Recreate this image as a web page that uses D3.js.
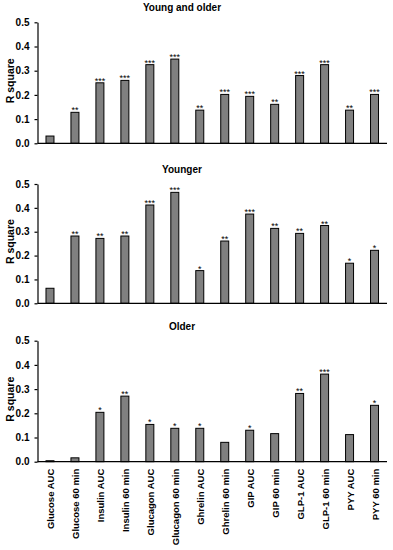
<!DOCTYPE html>
<html>
<head>
<meta charset="utf-8">
<script src="https://cdn.jsdelivr.net/npm/d3@7"></script>
<style>
body { margin: 0; background: #fff; }
svg text { font-family: "Liberation Sans", Arial, sans-serif; font-weight: bold; fill: #000; }
</style>
</head>
<body>
<div id="chart"></div>
<script>
// data
var categories = ["Glucose AUC", "Glucose 60 min", "Insulin AUC", "Insulin 60 min",
    "Glucagon AUC", "Glucagon 60 min", "Ghrelin AUC", "Ghrelin 60 min",
    "GIP AUC", "GIP 60 min", "GLP-1 AUC", "GLP-1 60 min", "PYY AUC", "PYY 60 min"];

var titles = ["Young and older", "Younger", "Older"];

var bothValues = [0.03, 0.128, 0.25, 0.26, 0.325, 0.348, 0.137, 0.202, 0.194, 0.161, 0.28, 0.325, 0.137, 0.202];
var youngerValues = [0.063, 0.282, 0.272, 0.282, 0.412, 0.465, 0.137, 0.261, 0.374, 0.314, 0.293, 0.326, 0.168, 0.222];
var olderValues = [0.004, 0.016, 0.204, 0.271, 0.154, 0.138, 0.138, 0.08, 0.13, 0.116, 0.282, 0.362, 0.112, 0.233];

var bothStars = ["", "**", "***", "***", "***", "***", "**", "***", "***", "**", "***", "***", "**", "***"];
var youngerStars = ["", "**", "**", "**", "***", "***", "*", "**", "***", "**", "**", "**", "*", "*"];
var olderStars = ["", "", "*", "**", "*", "*", "*", "", "*", "", "**", "***", "", "*"];

var yTicks = [0, 0.1, 0.2, 0.3, 0.4, 0.5];

var W = 393, H = 550;
var svg = d3.select("#chart").append("svg")
    .attr("width", W)
    .attr("height", H);

// one panel per group: [top of 0.5, bottom at 0.0]
var panels = [
    {title: titles[0], values: bothValues, stars: bothStars, top: 22.3, bottom: 143.3},
    {title: titles[1], values: youngerValues, stars: youngerStars, top: 184, bottom: 303.3},
    {title: titles[2], values: olderValues, stars: olderStars, top: 340.7, bottom: 461.7}
];

var left = 37.5, right = 387;

var x = d3.scaleBand()
    .domain(categories)
    .range([left, right])
    .paddingInner(0.68)
    .paddingOuter(0.34);

function drawPanel(p, i){
    var g = svg.append("g").attr("class", "panel");
    var y = d3.scaleLinear().domain([0, 0.5]).range([p.bottom, p.top]);

    // title
    g.append("text")
        .attr("x", 182)
        .attr("y", p.top - 11)
        .attr("text-anchor", "middle")
        .style("font-size", "10px")
        .text(p.title);

    // bars
    g.selectAll("rect")
        .data(p.values).enter().append("rect")
        .attr("x", function(d, j){ return x(categories[j]); })
        .attr("y", function(d){ return y(d); })
        .attr("width", x.bandwidth())
        .attr("height", function(d){ return y(0) - y(d); })
        .attr("fill", "#808080")
        .attr("stroke", "#000")
        .attr("stroke-width", 1);

    // significance stars
    g.selectAll("text.star")
        .data(p.values).enter().append("text")
        .attr("class", "star")
        .attr("x", function(d, j){ return x(categories[j]) + x.bandwidth() / 2; })
        .attr("y", function(d){ return y(d) + 1; })
        .attr("text-anchor", "middle")
        .style("font-size", "9px")
        .style("font-weight", "normal")
        .text(function(d, j){ return p.stars[j]; });

    // y axis
    var yAxis = d3.axisLeft(y)
        .tickValues(yTicks)
        .tickFormat(d3.format(".1f"))
        .tickSizeInner(3)
        .tickSizeOuter(0)
        .tickPadding(5);
    var ya = g.append("g")
        .attr("transform", "translate(" + left + ",0)")
        .call(yAxis);
    ya.selectAll("text").style("font-size", "10px");
    ya.selectAll("line, path").attr("stroke", "#000").attr("stroke-width", 1.2);

    // x axis line
    var xa = g.append("g")
        .attr("transform", "translate(0," + p.bottom + ")")
        .call(d3.axisBottom(x).tickSize(0).tickFormat(""));
    xa.select("path").attr("stroke", "#000").attr("stroke-width", 1.2)
        .attr("d", "M" + left + ",0H" + right);

    // y label
    g.append("text")
        .attr("transform", "translate(13.5," + ((p.top + p.bottom) / 2 - 2) + ") rotate(-90)")
        .attr("text-anchor", "middle")
        .style("font-size", "10.5px")
        .text("R square");

    // category labels under last panel
    if (i == panels.length - 1){
        g.selectAll("text.cat")
            .data(categories).enter().append("text")
            .attr("class", "cat")
            .attr("transform", function(d){
                return "translate(" + (x(d) + x.bandwidth() / 2 + 4.5) + "," + (p.bottom + 7) + ") rotate(-90)";
            })
            .attr("text-anchor", "end")
            .style("font-size", "9.5px")
            .text(function(d){ return d; });
    }
}

panels.forEach(drawPanel);
</script>
</body>
</html>
